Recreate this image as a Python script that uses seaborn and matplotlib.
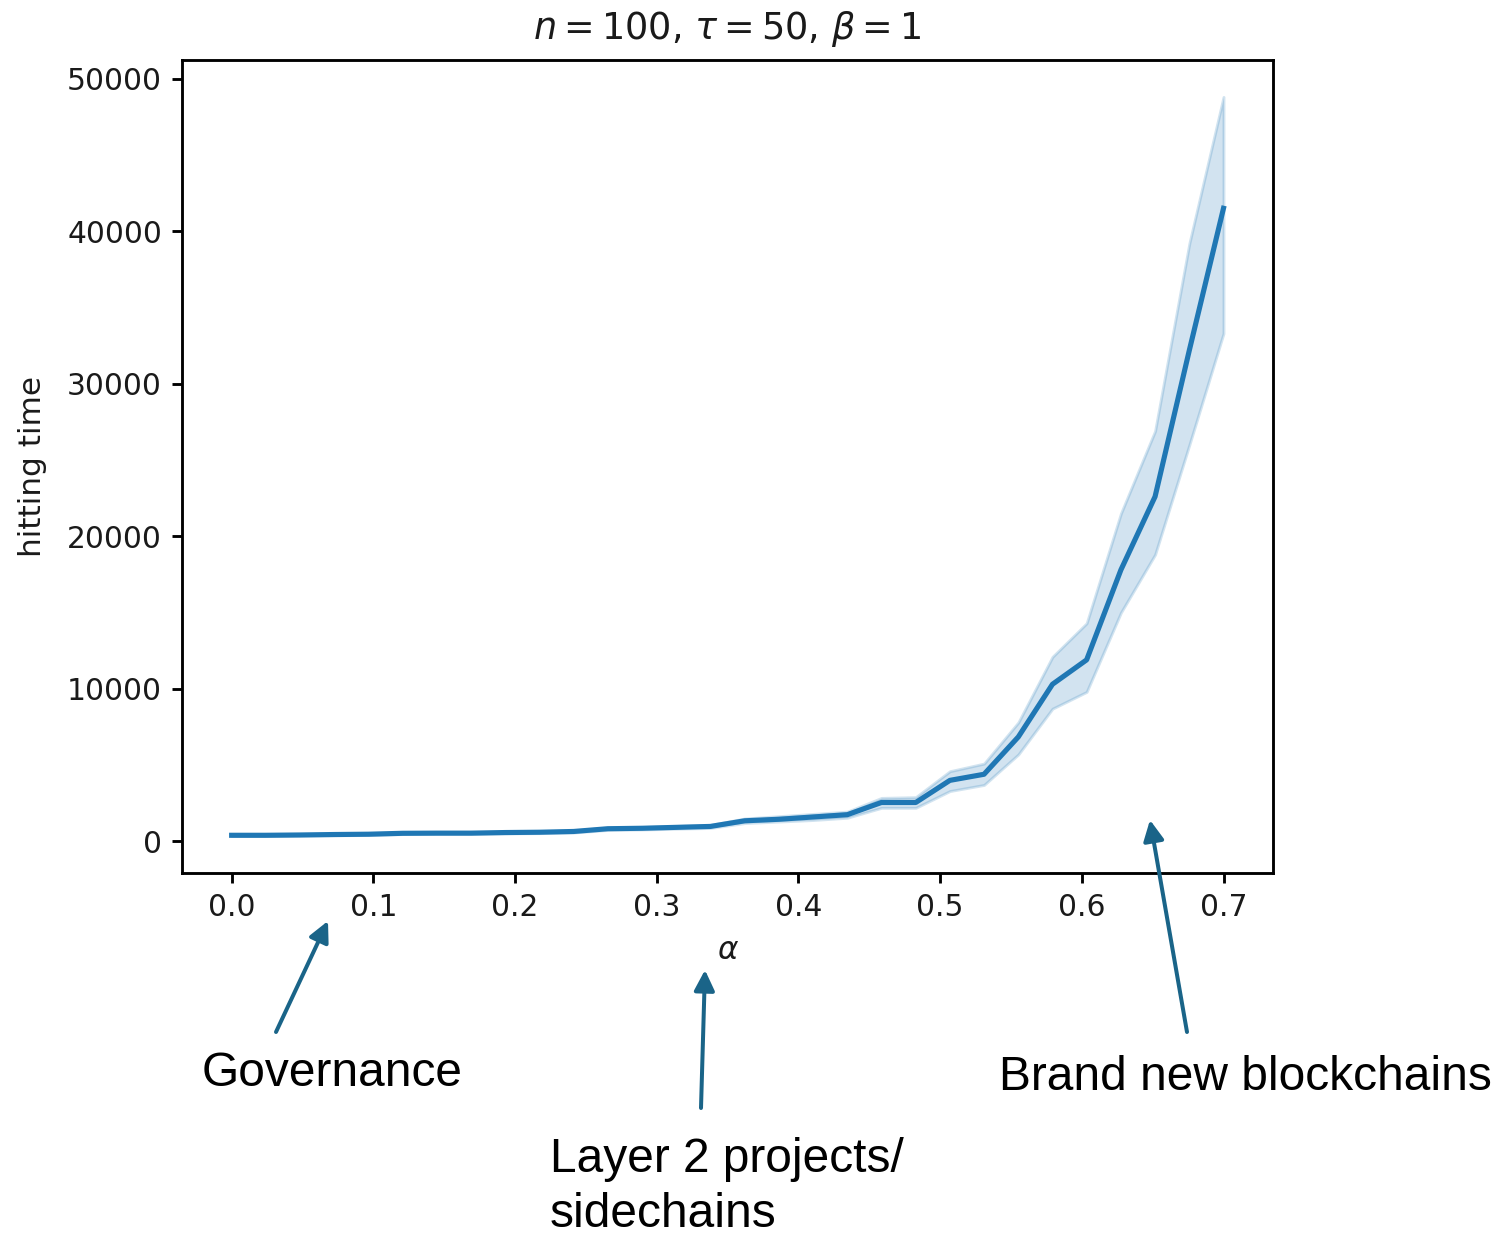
import numpy as np
import pandas as pd
import matplotlib
matplotlib.use("Agg")
import matplotlib.pyplot as plt
import seaborn as sns

# ---- data ----
alpha = [0.0, 0.0241, 0.0483, 0.0724, 0.0966, 0.1207, 0.1448, 0.1690, 0.1931, 0.2172,
         0.2414, 0.2655, 0.2897, 0.3138, 0.3379, 0.3621, 0.3862, 0.4103, 0.4345, 0.4586,
         0.4828, 0.5069, 0.5310, 0.5552, 0.5793, 0.6034, 0.6276, 0.6517, 0.6759, 0.7000]
hit_mean = [400, 400, 420, 450, 470, 530, 540, 540, 580, 600,
            650, 830, 860, 920, 980, 1350, 1450, 1600, 1750, 2550,
            2550, 4000, 4400, 6850, 10300, 11900, 17800, 22600, 32200, 41500]
hit_low = [350, 360, 380, 400, 420, 480, 490, 490, 520, 540,
           580, 750, 780, 830, 880, 1200, 1300, 1400, 1550, 2200,
           2200, 3300, 3700, 5700, 8700, 9800, 15000, 18800, 26000, 33300]
hit_high = [450, 440, 460, 500, 520, 580, 590, 600, 640, 660,
            720, 910, 940, 1010, 1080, 1500, 1650, 1800, 1950, 2850,
            2900, 4600, 5100, 7800, 12100, 14300, 21500, 26900, 39200, 48800]

title = r"$n = 100$, $\tau = 50$, $\beta = 1$"
xlabel = r"$\alpha$"
ylabel = "hitting time"
notes = ["Governance", "Layer 2 projects/\nsidechains", "Brand new blockchains"]

# long-form table: low / mean / high per alpha -> median line, 100% interval band
df = pd.DataFrame({
    "alpha": alpha * 3,
    "hitting time": hit_low + hit_mean + hit_high,
})

plt.rcParams.update({
    "xtick.labelsize": 10.4,
    "ytick.labelsize": 10.4,
    "axes.labelsize": 10.9,
    "axes.titlesize": 12.8,
    "text.color": "#1a1a1a",
    "axes.labelcolor": "#1a1a1a",
    "xtick.labelcolor": "#1a1a1a",
    "ytick.labelcolor": "#1a1a1a",
})

DPI = 206
fig = plt.figure(figsize=(1496 / DPI, 1239 / DPI), dpi=DPI)
ax = fig.add_axes([0.1217, 0.2954, 0.851 - 0.1217, 0.9516 - 0.2954])

sns.lineplot(data=df, x="alpha", y="hitting time", estimator="median",
             errorbar=("pi", 100), color="#1f77b4", linewidth=1.8, ax=ax)

ax.set_title(title, pad=7.5)
ax.set_xlabel(xlabel, labelpad=4.8)
ax.set_ylabel(ylabel, labelpad=7)
ax.set_xticks([0.0, 0.1, 0.2, 0.3, 0.4, 0.5, 0.6, 0.7])
ax.set_yticks([0, 10000, 20000, 30000, 40000, 50000])
for s in ax.spines.values():
    s.set_linewidth(1.0)
ax.tick_params(width=1.0)

# annotations (figure pixel coordinates, origin bottom-left)
H = 1239
arrow_col = "#1a6488"
arrows = [((276, 1032), (328, 921)),
          ((701, 1108), (705, 970)),
          ((1187, 1032), (1150, 820))]
for (tx, ty), (hx, hy) in arrows:
    ax.annotate("", xy=(hx, H - hy), xytext=(tx, H - ty),
                xycoords="figure pixels", textcoords="figure pixels",
                annotation_clip=False,
                arrowprops=dict(arrowstyle="-|>", color=arrow_col, lw=1.4,
                                mutation_scale=15, shrinkA=0, shrinkB=0))

tfont = dict(family=["Liberation Sans", "DejaVu Sans"], fontsize=16.75, color="black")
fig.text(202 / 1496, 1 - 1074 / H, notes[0], ha="left", va="center", **tfont)
fig.text(550 / 1496, 1 - 1187 / H, notes[1], ha="left", va="center",
         linespacing=1.27, **tfont)
fig.text(999 / 1496, 1 - 1078 / H, notes[2], ha="left", va="center", **tfont)

fig.savefig("out.png", dpi=DPI, facecolor="white")
